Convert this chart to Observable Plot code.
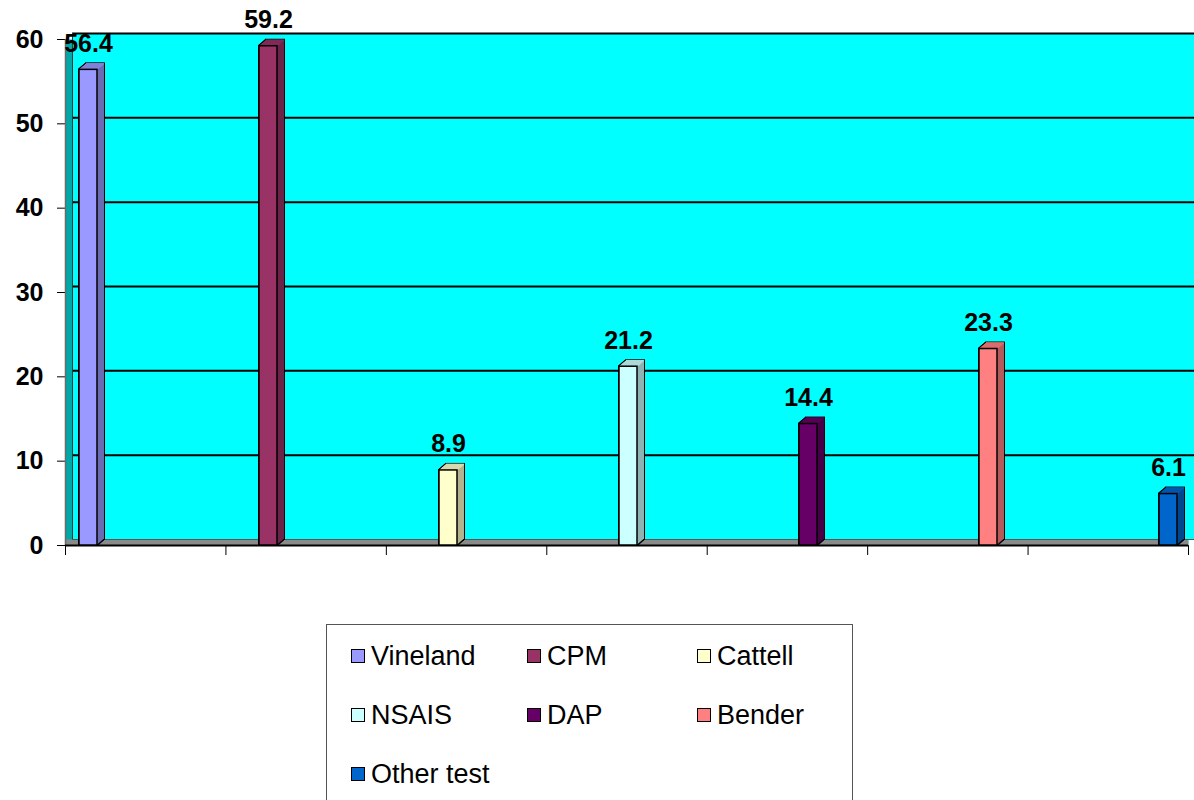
<!DOCTYPE html>
<html>
<head>
<meta charset="utf-8">
<script src="https://cdn.jsdelivr.net/npm/d3@7"></script>
<script src="https://cdn.jsdelivr.net/npm/@observablehq/plot@0.6"></script>
<style>
  html, body { margin: 0; padding: 0; background: #fff; }
  #wrap { position: relative; width: 1194px; height: 800px; overflow: hidden; font-family: "Liberation Sans", Arial, sans-serif; }
  #base, #bars { position: absolute; left: 0; top: 0; }
  #legend { position: absolute; left: 326px; top: 624px; width: 527px; height: 200px; border: 1px solid #555; box-sizing: border-box; background: #fff; }
  .item { position: absolute; display: flex; align-items: center; font-size: 27px; line-height: 30px; color: #000; transform: translateY(-50%); white-space: nowrap; }
  .sw { width: 14px; height: 14px; box-sizing: border-box; border: 1.5px solid #000; margin-right: 6px; }
</style>
</head>
<body>
<div id="wrap">
  <div id="base"></div>
  <div id="bars"></div>
  <div id="legend"></div>
</div>
<script>
// ---- data ----
const categories = ["Vineland", "CPM", "Cattell", "NSAIS", "DAP", "Bender", "Other test"];
const values = [56.4, 59.2, 8.9, 21.2, 14.4, 23.3, 6.1];
const colors = ["#9999FF", "#993366", "#FFFFCC", "#CCFFFF", "#660066", "#FF8080", "#0066CC"];
const yTicks = [0, 10, 20, 30, 40, 50, 60];
const xSlots = [0, 1, 2, 3, 4, 5, 6, 7];

const data = categories.map((name, i) => ({
  name,
  value: values[i],
  color: colors[i],
  side: d3.color(colors[i]).darker(1.0).formatHex(),
  top: d3.color(colors[i]).darker(0.45).formatHex()
}));

const W = 1194, H = 600;
const common = { width: W, height: H, marginLeft: 65, marginRight: 6, marginTop: 39, marginBottom: 55 };
const DX = 7, DY = -6; // 3D depth offset
const steps = d3.range(DX, -1, -1); // 7..0

// ---- base: walls, floor, gridlines, axes ----
const base = Plot.plot({
  ...common,
  style: { overflow: "visible", background: "transparent", fontFamily: "Liberation Sans, Arial, sans-serif", fontSize: "25px", fontWeight: "bold", color: "#000" },
  x: { domain: [0, 7], ticks: xSlots, tickSize: 10, tickFormat: () => "", label: null },
  y: { domain: [0, 60], ticks: yTicks, tickSize: 8, tickPadding: 14, label: null },
  marks: [
    Plot.frame({ fill: "#00a8a8", stroke: "none" }),
    Plot.frame({ fill: "#00FFFF", stroke: "none", dx: DX, dy: DY }),
    Plot.ruleY([0], { stroke: "#8a8a8a", strokeWidth: 6, dy: -3 }),
    Plot.ruleY(yTicks.slice(1), { dx: DX, dy: DY, stroke: "#000", strokeWidth: 2 }),
    Plot.ruleY([0], { dx: DX, dy: DY, stroke: "#555", strokeWidth: 1 }),
    Plot.ruleX([0], { y1: 0, y2: 60, dx: DX, dy: DY, stroke: "#333", strokeWidth: 1 }),
    Plot.ruleX([0], { y1: 0, y2: 60, stroke: "#6a6a6a", strokeWidth: 1.5 }),
    Plot.ruleY([0], { stroke: "#000", strokeWidth: 2 })
  ]
});
document.getElementById("base").appendChild(base);

// ---- bars (3D look via swept copies) ----
const outline = steps.map(k => Plot.barY(data, { x: "name", y: "value", fill: "#000", dx: k, dy: k * DY / DX, inset: -1 }));
const sides = steps.map(k => Plot.barY(data, { x: "name", y: "value", fill: "side", dx: k, dy: k * DY / DX }));
const tops = steps.filter(k => k > 0).map(k => Plot.tickY(data, { x: "name", y: "value", stroke: "top", strokeWidth: 1.6, dx: k, dy: k * DY / DX }));

const bars = Plot.plot({
  ...common,
  style: { overflow: "visible", background: "transparent", fontFamily: "Liberation Sans, Arial, sans-serif" },
  x: { domain: categories, range: [-2, 1258], paddingInner: 0.9, paddingOuter: 0.45, axis: null },
  y: { domain: [0, 60], axis: null },
  marks: [
    ...outline,
    ...sides,
    ...tops,
    Plot.barY(data, { x: "name", y: "value", fill: "color", stroke: "#000", strokeWidth: 1.5 }),
    Plot.text(data, { x: "name", y: "value", text: d => d.value.toFixed(1), dy: -26, fontSize: 25, fontWeight: "bold", fill: "#000" })
  ]
});
document.getElementById("bars").appendChild(bars);

// ---- legend ----
const legend = document.getElementById("legend");
const colLeft = [24, 200, 370];
data.forEach((d, i) => {
  const item = document.createElement("div");
  item.className = "item";
  item.style.left = colLeft[i % 3] + "px";
  item.style.top = (31 + 59 * Math.floor(i / 3)) + "px";
  const sw = document.createElement("span");
  sw.className = "sw";
  sw.style.background = d.color;
  const label = document.createElement("span");
  label.textContent = d.name;
  item.appendChild(sw);
  item.appendChild(label);
  legend.appendChild(item);
});
</script>
</body>
</html>
